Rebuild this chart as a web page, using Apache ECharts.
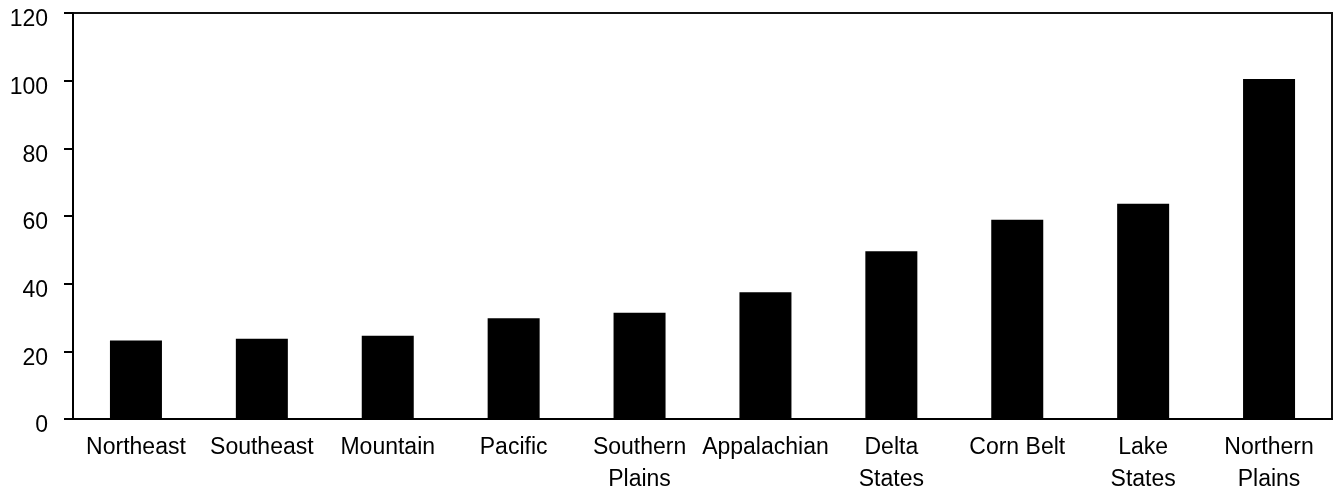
<!DOCTYPE html>
<html>
<head>
<meta charset="utf-8">
<script src="https://cdn.jsdelivr.net/npm/echarts@6/dist/echarts.min.js"></script>
<style>
html,body{margin:0;padding:0;background:#fff;}
#chart{width:1338px;height:491px;}
</style>
</head>
<body>
<div id="chart"></div>
<script>
const categories = ["Northeast","Southeast","Mountain","Pacific","Southern\nPlains","Appalachian","Delta\nStates","Corn Belt","Lake\nStates","Northern\nPlains"];
const values = [23.2, 23.7, 24.6, 29.8, 31.4, 37.5, 49.6, 58.9, 63.6, 100.5];
const yTicks = [0, 20, 40, 60, 80, 100, 120];

const chart = echarts.init(document.getElementById('chart'), null, {renderer:'canvas'});
const font = '"Liberation Sans", Arial, sans-serif';
chart.setOption({
  animation: false,
  backgroundColor: '#fff',
  grid: {left: 73, right: 6, top: 13, bottom: 72, containLabel: false, outerBoundsMode: 'none',
         show: true, borderColor: '#111', borderWidth: 2, backgroundColor: 'transparent'},
  xAxis: {
    type: 'category',
    data: categories,
    axisLine: {show: true, lineStyle: {color: '#000', width: 2}},
    axisTick: {show: false},
    axisLabel: {color: '#000', fontSize: 23, fontFamily: font, lineHeight: 32, margin: 13, interval: 0}
  },
  yAxis: {
    type: 'value',
    min: yTicks[0],
    max: yTicks[yTicks.length-1],
    interval: 20,
    splitLine: {show: false},
    axisLine: {show: true, lineStyle: {color: '#000', width: 2}},
    axisTick: {show: true, inside: false, length: 9, lineStyle: {color: '#000', width: 2}},
    axisLabel: {color: '#000', fontSize: 23, fontFamily: font, margin: 25, verticalAlign: 'top', lineHeight: 14}
  },
  series: [{
    type: 'bar',
    data: values,
    barWidth: 52,
    itemStyle: {color: '#000'}
  }]
});
</script>
</body>
</html>
